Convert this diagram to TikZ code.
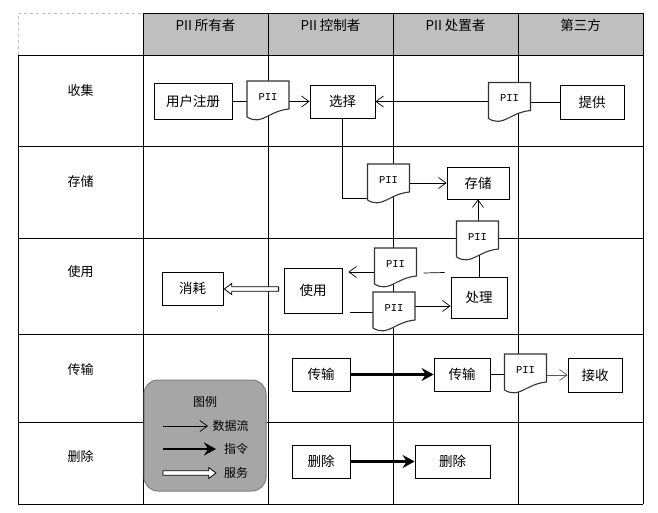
\documentclass[tikz,border=0pt]{standalone}
\usepackage{fontspec}
\setmainfont{Noto Sans CJK SC}
\newfontfamily\piifont{Liberation Mono}
\usetikzlibrary{arrows.meta,calc}
\tikzset{
  gridline/.style={line width=0.8pt},
  box/.style={draw, line width=0.8pt, fill=white, inner sep=0pt, font=\fontsize{13.5}{16}\selectfont},
  doc/.style={minimum width=42pt, minimum height=36pt, inner sep=0pt, font=\piifont\fontsize{10.5}{12}\selectfont},
  docline/.style={line width=1.1pt, draw=black!80, fill=white},
  flow/.style={line width=0.7pt, -{Straight Barb[length=7.5pt,width=11pt]}},
  plain/.style={line width=0.7pt},
  cmd/.style={line width=2.4pt, -{Stealth[length=12pt,width=13pt,inset=4pt]}},
  rowlab/.style={font=\fontsize{13}{15}\selectfont},
  headlab/.style={font=\fontsize{13.5}{15}\selectfont},
  legtext/.style={font=\fontsize{12}{14}\selectfont},
}
\newcommand\docnode[3]{%
  \draw[docline] ($(#2)+(-21,-18)$) -- ($(#2)+(21,-18)$) -- ($(#2)+(21,10)$)
    .. controls ($(#2)+(0,12)$) and ($(#2)+(-6,27)$) .. ($(#2)+(-21,18)$) -- cycle;
  \node[doc] (#1) at ($(#2)+(0,-2)$) {#3};}
% #1 start coordinate name, #2 tip coordinate name, #3 head length (signed number, pt)
\newcommand\svcarrow[3]{%
  \draw[line width=0.8pt, fill=white] let \p1=(#1), \p2=(#2), \n1={#3} in
    ({\x1},{\y1+2.3pt}) -- ({\x2-\n1*1pt},{\y1+2.3pt}) -- ({\x2-\n1*1pt},{\y1+5.5pt}) -- ({\x2},{\y1})
    -- ({\x2-\n1*1pt},{\y1-5.5pt}) -- ({\x2-\n1*1pt},{\y1-2.3pt}) -- ({\x1},{\y1-2.3pt}) -- cycle;}
\begin{document}
\begin{tikzpicture}[x=1pt,y=-1pt]
\useasboundingbox (0,0) rectangle (658,513);
% header
\fill[black!25] (143,13) rectangle (643,55);
\draw[dashed, black!25, line width=0.6pt] (18,55) |- (143,13);
\draw[gridline] (143,13) -- (643,13);
\foreach \x in {143,268,393,518,643} \draw[gridline] (\x,13) -- (\x,504);
\draw[gridline] (18,55) -- (18,504);
\foreach \y in {55,146,238,334,422,504} \draw[gridline] (18,\y) -- (643,\y);
\node[headlab] (h1) at (205.5,25) {PII 所有者};
\node[headlab] (h2) at (330.5,25) {PII 控制者};
\node[headlab] (h3) at (455.5,25) {PII 处置者};
\node[headlab] (h4) at (580.5,25) {第三方};
\node[rowlab] (r1) at (80.5,91) {收集};
\node[rowlab] (r2) at (80.5,182) {存储};
\node[rowlab] (r3) at (80.5,272) {使用};
\node[rowlab] (r4) at (80.5,370) {传输};
\node[rowlab] (r5) at (80.5,457) {删除};
% boxes
\node[box, minimum width=78, minimum height=36] (u1) at (193,101) {用户注册};
\node[box, minimum width=65, minimum height=33] (xz) at (342.5,101.5) {选择};
\node[box, minimum width=64, minimum height=34] (tg) at (592,102) {提供};
\node[box, minimum width=62, minimum height=32] (cc) at (478,183) {存储};
\node[box, minimum width=56, minimum height=41] (cl) at (479,297.5) {处理};
\node[box, minimum width=58, minimum height=45] (sy) at (313,290.5) {使用};
\node[box, minimum width=61, minimum height=33] (xh) at (192.5,288.5) {消耗};
\node[box, minimum width=58, minimum height=33] (cs1) at (321,374.5) {传输};
\node[box, minimum width=56, minimum height=33] (cs2) at (462,374.5) {传输};
\node[box, minimum width=54, minimum height=34] (js) at (595,375) {接收};
\node[box, minimum width=58, minimum height=33] (sc1) at (321,461.5) {删除};
\node[box, minimum width=75, minimum height=33] (sc2) at (452.5,461.5) {删除};
% doc centres and attachment points
\path (268,99) coordinate (d1c) (509.5,100.5) coordinate (d2c) (388.5,182) coordinate (d3c)
      (477.5,239) coordinate (d4c) (395.5,266) coordinate (d5c) (394,310) coordinate (d6c)
      (525.5,372) coordinate (d7c);
\path ($(d1c)+(-21,0)$) coordinate (d1w) ($(d1c)+(21,0)$) coordinate (d1e)
      ($(d2c)+(-21,0)$) coordinate (d2w) ($(d2c)+(21,0)$) coordinate (d2e)
      ($(d3c)+(-21,16)$) coordinate (d3w) ($(d3c)+(21,0)$) coordinate (d3e)
      ($(d4c)+(0,-18)$) coordinate (d4n) ($(d4c)+(0,14)$) coordinate (d4s)
      ($(d5c)+(-21,6)$) coordinate (d5w) ($(d5c)+(28,7)$) coordinate (d5x)
      ($(d6c)+(-21,2)$) coordinate (d6w) ($(d6c)+(21,-4)$) coordinate (d6e)
      ($(d7c)+(-21,0)$) coordinate (d7w) ($(d7c)+(21,0)$) coordinate (d7e);
\path ($(sy.west)+(-5,-1.5)$) coordinate (s1) ($(xh.east)+(1,-1.5)$) coordinate (s2)
      ($(cl.west)+(-6,-25)$) coordinate (clx);
% connectors
\draw[plain] (u1.east) -- (u1.east -| d1w);
\draw[flow] (xz.west -| d1e) -- (xz.west);
\draw[flow] (xz.east -| d2w) -- (xz.east);
\draw[plain] (tg.west) -- (tg.west -| d2e);
\draw[plain] (xz.south) |- (d3w);
\draw[flow] (cc.west -| d3e) -- (cc.west);
\draw[flow] (cc.south |- d4n) -- (cc.south);
\draw[plain] (cl.north) -- (cl.north |- d4s);
\draw[flow, shorten >=6pt] (d5w) -- (d5w -| sy.east);
\draw[plain] (clx) -- (d5x);
\draw[plain] (d6w) -- ($(d6w -| sy.east)+(8,0)$);
\draw[flow] (d6e) -- (d6e -| cl.west);
\svcarrow{s1}{s2}{-7.3}
\draw[cmd] (cs1.east) -- (cs2.west);
\draw[plain] (cs2.east) -- (cs2.east -| d7w);
\draw[flow, draw=black!65] (js.west -| d7e) -- (js.west);
\draw[cmd] (sc1.east) -- (sc2.west);
% documents
\docnode{d1}{d1c}{PII}
\docnode{d2}{d2c}{PII}
\docnode{d3}{d3c}{PII}
\docnode{d4}{d4c}{PII}
\docnode{d5}{d5c}{PII}
\docnode{d6}{d6c}{PII}
\docnode{d7}{d7c}{PII}
% legend
\node[draw=black!50, fill=black!35, rounded corners=14pt, minimum width=122, minimum height=111, line width=1pt] (lg) at (205,435.5) {};
\node[legtext] (lgt) at (205,402) {图例};
\coordinate (a1s) at (163,426); \coordinate (a1e) at (208,426);
\coordinate (a2s) at (163,449); \coordinate (a2e) at (216,449);
\coordinate (a3s) at (163,473); \coordinate (a3e) at (216,473);
\draw[flow] (a1s) -- (a1e);
\draw[cmd] (a2s) -- (a2e);
\svcarrow{a3s}{a3e}{7.3}
\node[legtext, anchor=west] (l1) at (209,426) {数据流};
\node[legtext] (l2) at (236,449) {指令};
\node[legtext] (l3) at (236,473) {服务};
\end{tikzpicture}
\end{document}
